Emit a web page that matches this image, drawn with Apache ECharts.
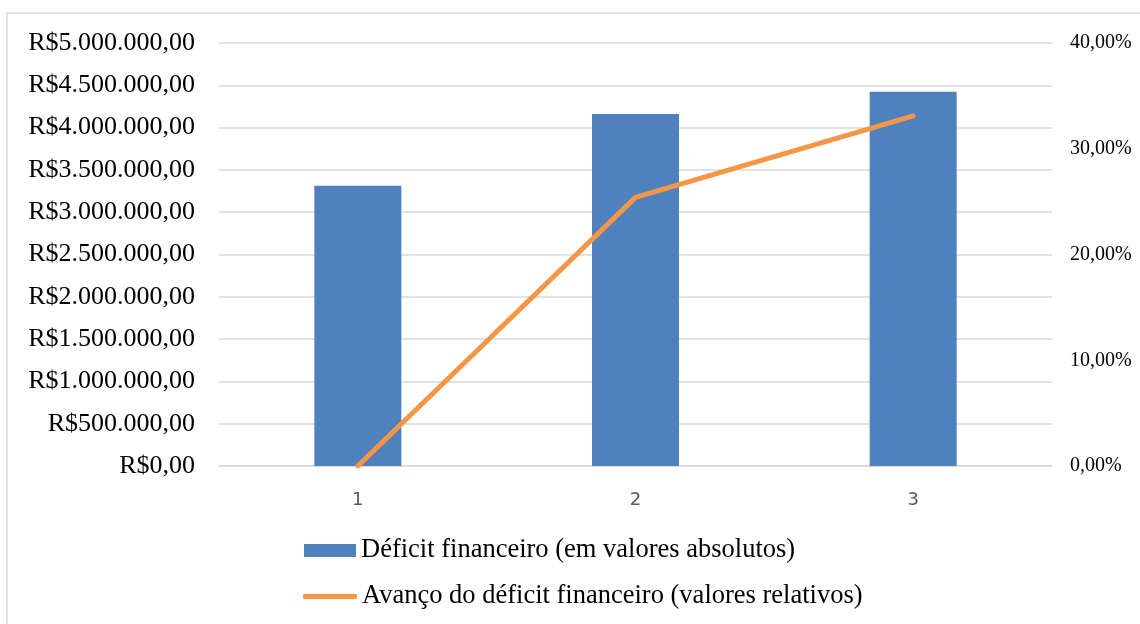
<!DOCTYPE html>
<html>
<head>
<meta charset="utf-8">
<script src="https://cdn.jsdelivr.net/npm/echarts@6/dist/echarts.min.js"></script>
<style>
html,body{margin:0;padding:0;background:#fff;}
#c{width:1140px;height:624px;}
</style>
</head>
<body>
<div id="c"></div>
<script>
const categories = ['1', '2', '3'];
const deficitAbs = [3313000, 4161000, 4424000];
const deficitRel = [0, 25.4, 33.1];
const leftTicks = [0, 5000000, 500000];
const rightTicks = [0, 40, 10];
const barName = 'Déficit financeiro (em valores absolutos)';
const lineName = 'Avanço do déficit financeiro (valores relativos)';

function brl(v) {
  const s = Math.round(v).toString().replace(/\B(?=(\d{3})+(?!\d))/g, '.');
  return 'R$' + s + ',00';
}
function pct(v) {
  return v.toFixed(2).replace('.', ',') + '%';
}

const chart = echarts.init(document.getElementById('c'));
const serif = 'Liberation Serif';
chart.setOption({
  backgroundColor: '#fff',
  animation: false,
  graphic: [{
    type: 'rect',
    shape: { x: 7, y: 13, width: 1300, height: 800 },
    style: { fill: 'none', stroke: '#d9d9d9', lineWidth: 1.5 },
    silent: true
  }],
  grid: { left: 219, right: 88, top: 43, bottom: 158, containLabel: false },
  xAxis: {
    type: 'category',
    data: categories,
    axisLine: { show: true, lineStyle: { color: '#d9d9d9', width: 1.5 } },
    axisTick: { show: false },
    axisLabel: { color: '#595959', fontFamily: 'DejaVu Sans', fontSize: 18, margin: 25 }
  },
  yAxis: [{
    type: 'value',
    min: leftTicks[0], max: leftTicks[1], interval: leftTicks[2],
    axisLine: { show: false }, axisTick: { show: false },
    splitLine: { show: true, lineStyle: { color: '#d9d9d9', width: 1.5 } },
    axisLabel: { color: '#000', fontFamily: serif, fontSize: 26, margin: 24, formatter: brl }
  }, {
    type: 'value',
    min: rightTicks[0], max: rightTicks[1], interval: rightTicks[2],
    axisLine: { show: false }, axisTick: { show: false },
    splitLine: { show: false },
    axisLabel: { color: '#000', fontFamily: serif, fontSize: 20, margin: 18, formatter: pct }
  }],
  legend: [{
    data: [barName],
    orient: 'vertical',
    left: 304, top: 537, padding: 0,
    icon: 'rect',
    itemWidth: 52, itemHeight: 13,
    textStyle: { fontFamily: serif, fontSize: 26.5, color: '#000', lineHeight: 27 },
    selectedMode: false
  }, {
    data: [lineName],
    orient: 'vertical',
    left: 303, top: 583, padding: 0,
    icon: 'roundRect',
    itemWidth: 54, itemHeight: 5,
    textStyle: { fontFamily: serif, fontSize: 26.5, color: '#000', lineHeight: 27 },
    selectedMode: false
  }],
  series: [{
    name: barName,
    type: 'bar',
    data: deficitAbs,
    barWidth: 87,
    itemStyle: { color: '#4F81BD' },
    yAxisIndex: 0
  }, {
    name: lineName,
    type: 'line',
    data: deficitRel,
    yAxisIndex: 1,
    symbol: 'none',
    itemStyle: { color: '#F79646' },
    lineStyle: { color: '#F79646', width: 5, cap: 'round', join: 'round' }
  }]
});
</script>
</body>
</html>
